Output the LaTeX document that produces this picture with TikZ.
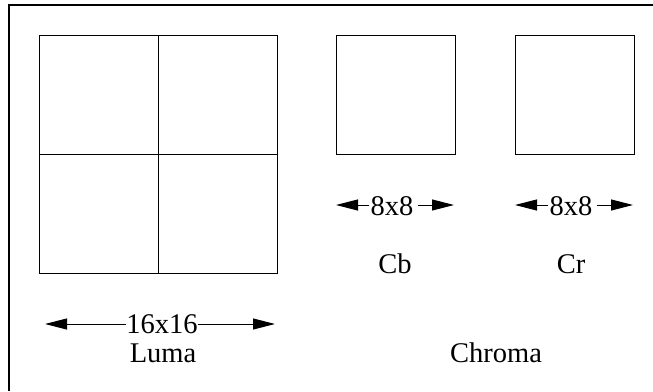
\documentclass[tikz,border=0pt]{standalone}
\usepackage{fontspec}
\setmainfont{Liberation Serif}
\usetikzlibrary{arrows.meta}
\tikzset{
  block/.style={draw, line width=1pt, minimum size=#1, inner sep=0pt, outer sep=0pt},
  label/.style={inner sep=0pt, anchor=base, font=\fontsize{28.5}{34}\selectfont},
  dim/.style={line width=1pt, -{Triangle[length=22pt,width=11pt]}},
  frame/.style={line width=1.2pt}
}
\begin{document}
\begin{tikzpicture}[x=1pt,y=-1pt]
\useasboundingbox (0,0) rectangle (653,391);
% open frame: top and left edges only
\draw[frame] (653,5) -- (9,5) -- (9,391);
% 16x16 luma macroblock split into four 8x8 blocks
\node[block=238pt] (luma) at (158,154) {};
\draw[line width=1pt] (luma.north) -- (luma.south);
\draw[line width=1pt] (luma.west) -- (luma.east);
% chroma blocks
\node[block=119pt] (cb) at (395.5,94.5) {};
\node[block=119pt] (cr) at (574.5,94.5) {};
% dimension labels and arrows
\node[label] (d16) at (162,333) {16x16};
\coordinate (d16l) at (45,324);
\coordinate (d16r) at (275,324);
\draw[dim] (d16.west |- d16l) -- (d16l);
\draw[dim] (d16.east |- d16r) -- (d16r);
\node[label] (dcb) at (392,215) {8x8};
\coordinate (dcbl) at (336,205);
\coordinate (dcbr) at (454,205);
\draw[dim] ([xshift=-1pt]dcb.west |- dcbl) -- (dcbl);
\draw[dim] ([xshift=4pt]dcb.east |- dcbr) -- (dcbr);
\node[label] (dcr) at (571,215) {8x8};
\coordinate (dcrl) at (515,205);
\coordinate (dcrr) at (633,205);
\draw[dim] ([xshift=-1pt]dcr.west |- dcrl) -- (dcrl);
\draw[dim] ([xshift=4pt]dcr.east |- dcrr) -- (dcrr);
% component names
\node[label] (lcb) at (395,273) {Cb};
\node[label] (lcr) at (571,273) {Cr};
\node[label] (lluma) at (163,362) {Luma};
\node[label] (lchroma) at (496,362) {Chroma};
\end{tikzpicture}
\end{document}
